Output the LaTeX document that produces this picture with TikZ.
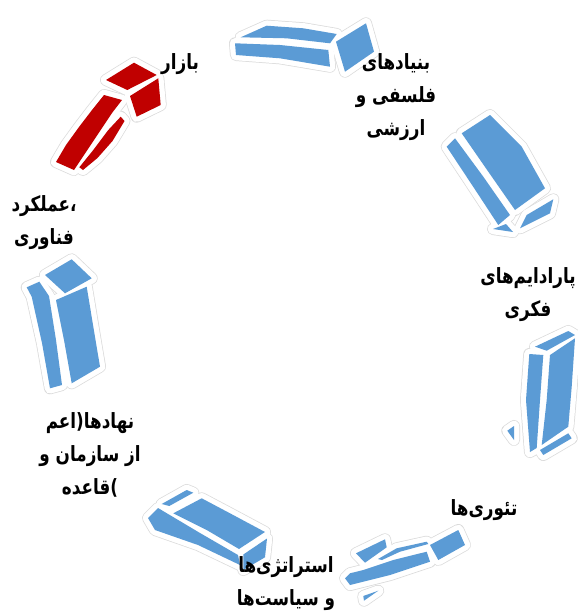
\documentclass[tikz,border=0pt]{standalone}
\usepackage{fontspec}
\newfontfamily\fa[Script=Arabic,FakeStretch=0.8]{DejaVu Sans}
\TeXXeTstate=1
\newcommand\rtlx[1]{\beginR #1\endR}
\definecolor{arrblue}{HTML}{5B9BD5}
\definecolor{arrred}{HTML}{C00000}
\tikzset{
  halogray/.style={draw=black!14, line width=12pt, line join=round},
  halowhite/.style={draw=white, line width=10.5pt, line join=round},
  bluef/.style={fill=arrblue},
  redf/.style={fill=arrred},
  lbl/.style={font=\fa\bfseries\fontsize{21}{33}\selectfont, align=center, text=black, inner sep=0pt}
}
% red arrow (top-left)
\def\shpRa{(106,80)--(134,62.7)--(156.7,75)--(127.3,90)--cycle}
\def\shpRb{(130,96)--(158.3,78.3)--(160.7,105)--(136.7,116.7)--cycle}
\def\shpRc{(56,162)--(66,145)--(79,127)--(92,110)--(104,95)--(122,100)--(112,113)--(102,128)--(90,146)--(74,170)--cycle}
\def\shpRd{(79.3,167.3)--(93.3,150)--(108.3,130)--(120.7,116.7)--(124.5,121)--(112.5,141)--(97.5,158)--(83,170)--cycle}
% top arrow
\def\shpTa{(240.7,37.3)--(266.7,25.7)--(303.3,28.3)--(336.7,34)--(330,43.3)--(286.7,38.3)--cycle}
\def\shpTb{(235,43.3)--(280,45)--(328.3,50)--(330,66.7)--(280,58.3)--(236,55)--cycle}
\def\shpTc{(336,41.7)--(366,23.3)--(374,51.7)--(345,71.7)--cycle}
% right upper arrow
\def\shpUa{(461.7,133.3)--(490,115)--(521.7,146.7)--(545,188.3)--(515,210)--(488.3,171.7)--cycle}
\def\shpUb{(446.7,146.7)--(455,138.3)--(483.3,176.7)--(510,215)--(498.3,225)--(472.7,186)--cycle}
\def\shpUc{(493,229)--(506,224)--(513,232)--cycle}
\def\shpUd{(520,228.3)--(526.7,215)--(553.3,199.3)--(550,213.3)--cycle}
% right lower arrow
\def\shpLa{(535,346.7)--(568.3,331)--(575,335)--(546.7,350.7)--cycle}
\def\shpLb{(550,355)--(575,338.3)--(571.7,386.7)--(568.3,426.7)--(541.7,445)--(546.7,400)--cycle}
\def\shpLc{(529.3,354)--(543.3,355)--(540,400)--(536.7,448)--(530,452)--(526,400)--cycle}
\def\shpLd{(507.3,430.7)--(514,426)--(514,440)--cycle}
\def\shpLe{(540,450)--(568.3,433.3)--(571.7,438.3)--(543.3,455)--cycle}
% bottom right arrow
\def\shpBa{(430,545)--(458.3,530)--(465,545)--(438.3,560)--cycle}
\def\shpBb{(426.7,551.7)--(393.3,560)--(363.3,570)--(350,573.3)--(345,578.3)--(350,585)--(390,575)--(430,561.7)--cycle}
\def\shpBc{(378,559)--(396.7,548.3)--(426.7,541.7)--(428.3,544)--(400,551.7)--(382,560)--cycle}
\def\shpBd{(356,553.3)--(385,539.3)--(386.7,547.3)--(365,562.7)--cycle}
\def\shpBe{(363.3,596)--(378.3,590.7)--(364,600.7)--cycle}
% bottom left arrow
\def\shpSa{(173.3,513.3)--(201.7,498.3)--(230,513.3)--(265,532)--(239,549)--(206.7,530)--cycle}
\def\shpSb{(148,518)--(158,508)--(200,533)--(238,555)--(240,565)--(198,545)--(155,530)--cycle}
\def\shpSc{(243.3,554.5)--(267,538.5)--(265,557.3)--(243.3,570)--cycle}
\def\shpSd{(161.7,504)--(186.7,490)--(193.3,492.7)--(169.3,506)--cycle}
% left arrow
\def\shpFa{(45,275)--(71.7,259.3)--(91.7,278.3)--(65,293.3)--cycle}
\def\shpFb{(56,300)--(86.7,286.7)--(93.3,326.7)--(100,366.7)--(71.7,383.3)--(64,340)--cycle}
\def\shpFc{(26.7,287.3)--(39.3,281.7)--(49,296)--(56,340)--(62,385)--(50,388.3)--(42,343)--(31.7,296.7)--cycle}
\begin{document}
\begin{tikzpicture}[x=1pt,y=-1pt]
\useasboundingbox (0,0) rectangle (578,616);
\foreach \p in {\shpRa,\shpRb,\shpRc,\shpRd,\shpTa,\shpTb,\shpTc,\shpUa,\shpUb,\shpUc,\shpUd,\shpLa,\shpLb,\shpLc,\shpLd,\shpLe,\shpBa,\shpBb,\shpBc,\shpBd,\shpBe,\shpSa,\shpSb,\shpSc,\shpSd,\shpFa,\shpFb,\shpFc}
  {\path[halogray] \p;}
\foreach \p in {\shpRa,\shpRb,\shpRc,\shpRd,\shpTa,\shpTb,\shpTc,\shpUa,\shpUb,\shpUc,\shpUd,\shpLa,\shpLb,\shpLc,\shpLd,\shpLe,\shpBa,\shpBb,\shpBc,\shpBd,\shpBe,\shpSa,\shpSb,\shpSc,\shpSd,\shpFa,\shpFb,\shpFc}
  {\path[halowhite] \p;}
\foreach \p in {\shpRa,\shpRb,\shpRc,\shpRd}
  {\path[redf] \p;}
\foreach \p in {\shpTa,\shpTb,\shpTc,\shpUa,\shpUb,\shpUc,\shpUd,\shpLa,\shpLb,\shpLc,\shpLd,\shpLe,\shpBa,\shpBb,\shpBc,\shpBd,\shpBe,\shpSa,\shpSb,\shpSc,\shpSd,\shpFa,\shpFb,\shpFc}
  {\path[bluef] \p;}
% labels
\node[lbl] (bazar) at (180,64) {\rtlx{بازار}};
\node[lbl] (bonyad) at (396,97) {\rtlx{بنیادهای}\\\rtlx{فلسفی و}\\\rtlx{ارزشی}};
\node[lbl] (paradaym) at (528,295) {\rtlx{پارادایم^^^^200cهای}\\\rtlx{فکری}};
\node[lbl] (teori) at (484,510) {\rtlx{تئوری^^^^200cها}};
\node[lbl] (estrat) at (286,584) {\rtlx{استراتژی^^^^200cها}\\\rtlx{و سیاست^^^^200cها}};
\node[lbl] (nahad) at (90,455) {\rtlx{نهادها(اعم}\\\rtlx{از سازمان و}\\\rtlx{قاعده})};
\node[lbl] (amal) at (44,223) {\rtlx{عملکرد}،\\\rtlx{فناوری}};
\end{tikzpicture}
\end{document}
